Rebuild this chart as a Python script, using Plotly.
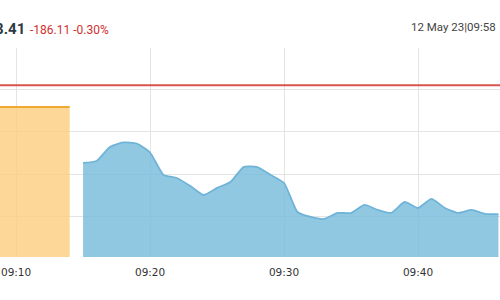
import plotly.graph_objects as go

# ---- data ----
prev_close = 61904.52
last_value = "61,718.41"
change_text = "-186.11 -0.30%"
stamp_text = "12 May 23|09:58"

preopen_times = ["2023-05-12 09:00", "2023-05-12 09:14"]
preopen_values = [61879.1, 61879.1]

times = [f"2023-05-12 09:{m:02d}" for m in range(15, 47)]
values = [61813.2, 61815.5, 61832.0, 61837.3, 61836.1, 61825.5, 61799.1, 61795.5,
          61786.1, 61775.5, 61783.8, 61790.8, 61808.5, 61808.3, 61799.1, 61789.6,
          61755.5, 61749.6, 61747.3, 61754.4, 61754.2, 61763.8, 61757.9, 61754.4,
          61767.3, 61760.2, 61770.8, 61760.2, 61754.4, 61757.9, 61753.2, 61753.0]

tick_vals = ["2023-05-12 09:10", "2023-05-12 09:20", "2023-05-12 09:30", "2023-05-12 09:40"]
tick_text = ["09:10", "09:20", "09:30", "09:40"]
grid_values = [61750, 61800, 61850, 61900]

TOP, BOTTOM, H = 48, 43, 300
plot_h = H - TOP - BOTTOM


def py(pix):
    """pixel row -> paper y"""
    return (H - BOTTOM - pix) / plot_h


fig = go.Figure()

fig.add_trace(go.Scatter(
    x=preopen_times, y=preopen_values, mode="lines", fill="tozeroy",
    line=dict(color="#f0a830", width=2),
    fillcolor="rgba(252,206,129,0.82)", hoverinfo="skip", showlegend=False))

fig.add_trace(go.Scatter(
    x=times, y=values, mode="lines", fill="tozeroy",
    line=dict(color="#6fb4d8", width=1.8, shape="spline", smoothing=0.5),
    fillcolor="rgba(119,188,220,0.82)", hoverinfo="skip", showlegend=False))

fig.add_shape(type="line", xref="paper", x0=0, x1=1, yref="y",
              y0=prev_close, y1=prev_close,
              line=dict(color="#d9534f", width=2))

fig.update_layout(
    width=500, height=300,
    margin=dict(l=0, r=0, t=TOP, b=BOTTOM),
    paper_bgcolor="white", plot_bgcolor="white",
    showlegend=False,
    xaxis=dict(
        range=["2023-05-12 09:08:48", "2023-05-12 09:46:07"],
        tickvals=tick_vals, ticktext=tick_text,
        showgrid=True, gridcolor="#e4e4e4", gridwidth=1,
        zeroline=False, showline=False, ticks="",
        tickfont=dict(family="DejaVu Sans", size=10.5, color="#333333"),
        ticklabelstandoff=7,
    ),
    yaxis=dict(
        range=[61702.5, 61948.5],
        tickvals=grid_values,
        showticklabels=False, showgrid=True, gridcolor="#e4e4e4", gridwidth=1,
        zeroline=False, showline=False, ticks="",
    ),
    annotations=[
        dict(xref="paper", yref="paper", x=27 / 500, y=py(29),
             xanchor="right", yanchor="middle", showarrow=False,
             text="<b>" + last_value + "</b>",
             font=dict(family="Roboto", size=15, color="#2d3a44")),
        dict(xref="paper", yref="paper", x=28 / 500, y=py(30),
             xanchor="left", yanchor="middle", showarrow=False,
             text=change_text,
             font=dict(family="Roboto", size=12, color="#d0312d")),
        dict(xref="paper", yref="paper", x=498 / 500, y=py(27),
             xanchor="right", yanchor="middle", showarrow=False,
             text=stamp_text,
             font=dict(family="Roboto", size=11.5, color="#444444")),
    ],
)

fig.write_html("out.html")
